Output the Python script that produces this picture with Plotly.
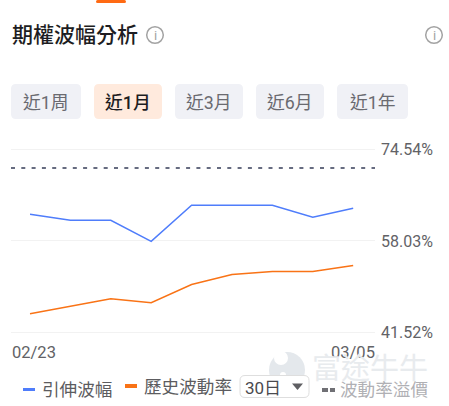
import plotly.graph_objects as go

dates = ["02/23", "02/24", "02/25", "02/26", "02/27", "03/02", "03/03", "03/04", "03/05"]
implied_vol = [62.84, 61.75, 61.75, 57.94, 64.47, 64.47, 64.47, 62.29, 63.93]
hist_vol = [44.86, 46.24, 47.6, 46.87, 50.14, 51.95, 52.5, 52.5, 53.6]
premium_level = 71.2
axis_ticks = [74.54, 58.03, 41.52]
tick_labels = ["74.54%", "58.03%", "41.52%"]
tabs = ["近1周", "近1月", "近3月", "近6月", "近1年"]

W, H = 449, 406
FONT = "Roboto, 'Noto Sans CJK TC', sans-serif"
px = lambda x: x / W
py = lambda y: 1 - y / H


def rrect(x0, y0, x1, y1, r):
    a, b, c, d = px(x0), py(y0), px(x1), py(y1)
    rx, ry = r / W, r / H
    return (f"M{a+rx},{b} L{c-rx},{b} Q{c},{b} {c},{b-ry} L{c},{d+ry} Q{c},{d} {c-rx},{d} "
            f"L{a+rx},{d} Q{a},{d} {a},{d+ry} L{a},{b-ry} Q{a},{b} {a+rx},{b} Z")


shapes, ann = [], []


def rect(x0, y0, x1, y1, color, r=0, line=None, layer="above"):
    shapes.append(dict(type="path", path=rrect(x0, y0, x1, y1, r), xref="paper", yref="paper",
                       fillcolor=color, layer=layer,
                       line=dict(color=line or "rgba(0,0,0,0)", width=1 if line else 0)))


def text(x, y, s, size, color, anchor="left", weight=None):
    f = dict(size=size, color=color, family=FONT)
    if weight:
        f["weight"] = weight
    ann.append(dict(x=px(x), y=py(y), xref="paper", yref="paper", text=s, showarrow=False,
                    xanchor=anchor, yanchor="middle", font=f, borderpad=0, borderwidth=0))


def circle(cx, cy, r, fill, line=None, lw=0, layer="above"):
    shapes.append(dict(type="circle", xref="paper", yref="paper", x0=px(cx - r), x1=px(cx + r),
                       y0=py(cy + r), y1=py(cy - r), fillcolor=fill, layer=layer,
                       line=dict(color=line or "rgba(0,0,0,0)", width=lw)))


# top indicator
rect(96, 0, 126, 3, "#ff6a13", 1.5)
# title and info icons
text(11.5, 35, "期權波幅分析", 21, "#1d1d22", weight=500)
for cx in (155, 434):
    circle(cx, 35, 8.3, "#ffffff", "#a3a3a3", 1.5)
    text(cx, 35, "i", 13, "#a3a3a3", "center")

# range tabs
tab_boxes = [(11, 81), (94, 162), (175, 243), (256, 324), (337, 408)]
for i, (label, (x0, x1)) in enumerate(zip(tabs, tab_boxes)):
    active = i == 1
    rect(x0, 84, x1, 119, "#ffeadd" if active else "#f0f1f6", 5)
    text((x0 + x1) / 2, 102, label, 17.8, "#1d1d22" if active else "#6a6a70", "center",
         weight=500 if active else None)

# date labels
text(12, 352, dates[0], 16.5, "#626266")
text(375, 352, dates[-1], 16.5, "#626266", "right")

# watermark
circle(287, 370, 18, "#e4e8ec", layer="below")
circle(281, 358, 7, "#ffffff", layer="below")
circle(283, 375, 3, "#ffffff", layer="below")
text(312, 369, "富途牛牛", 29, "#e8ebee")

# legend
rect(23, 388, 35, 391, "#4f7dfb")
text(42, 390, "引伸波幅", 17.6, "#5c5c60")
rect(125, 384, 137, 388, "#f97316")
text(144, 387, "歷史波動率", 17.6, "#5c5c60")
rect(240, 375.5, 309, 397.5, "#ffffff", 5, "#dedede")
text(245, 388, "30日", 17, "#4a4a4e")
shapes.append(dict(type="path", xref="paper", yref="paper", fillcolor="#5f5f63",
                   line=dict(width=0),
                   path=f"M{px(292)},{py(383.5)} L{px(303)},{py(383.5)} L{px(297.5)},{py(390)} Z"))
rect(322, 388, 328, 392, "#707075")
rect(330, 388, 335, 392, "#707075")
text(340, 390, "波動率溢價", 17.6, "#b0b0b4")

fig = go.Figure()
fig.add_trace(go.Scatter(x=dates, y=implied_vol, mode="lines", name="引伸波幅",
                         line=dict(color="#4f7dfb", width=1.5), hoverinfo="skip"))
fig.add_trace(go.Scatter(x=dates, y=hist_vol, mode="lines", name="歷史波動率",
                         line=dict(color="#f97316", width=1.5), hoverinfo="skip"))
shapes.append(dict(type="line", xref="paper", x0=px(11), x1=px(375), yref="y",
                   y0=premium_level, y1=premium_level, layer="above",
                   line=dict(color="#666b80", width=2, dash="4px,6.3px")))

plot_top, plot_bottom = 148.4, 333.4
pad = 0.2
fig.update_layout(
    template="none",
    width=W, height=H, margin=dict(l=0, r=0, t=0, b=0, autoexpand=False),
    paper_bgcolor="#ffffff", plot_bgcolor="rgba(0,0,0,0)",
    showlegend=False, shapes=shapes, annotations=ann,
    font=dict(family=FONT),
    xaxis=dict(type="category", categoryorder="array", categoryarray=dates,
               domain=[px(11), px(375)], range=[-0.47, 8.54], automargin=False,
               showgrid=False, zeroline=False, showline=False, showticklabels=False, ticks=""),
    yaxis=dict(domain=[py(plot_bottom), py(plot_top)],
               range=[axis_ticks[2] - pad, axis_ticks[0] + pad], automargin=False,
               tickvals=axis_ticks, ticktext=tick_labels, side="right",
               showgrid=True, gridcolor="#f2f2f2", gridwidth=1, zeroline=False, showline=False,
               ticks="", ticklabelstandoff=5,
               tickfont=dict(size=16, color="#626266", family=FONT)),
)
fig.write_html("out.html", config=dict(displayModeBar=False),
               post_script="document.body.style.margin='0';document.body.style.overflow='hidden';")
